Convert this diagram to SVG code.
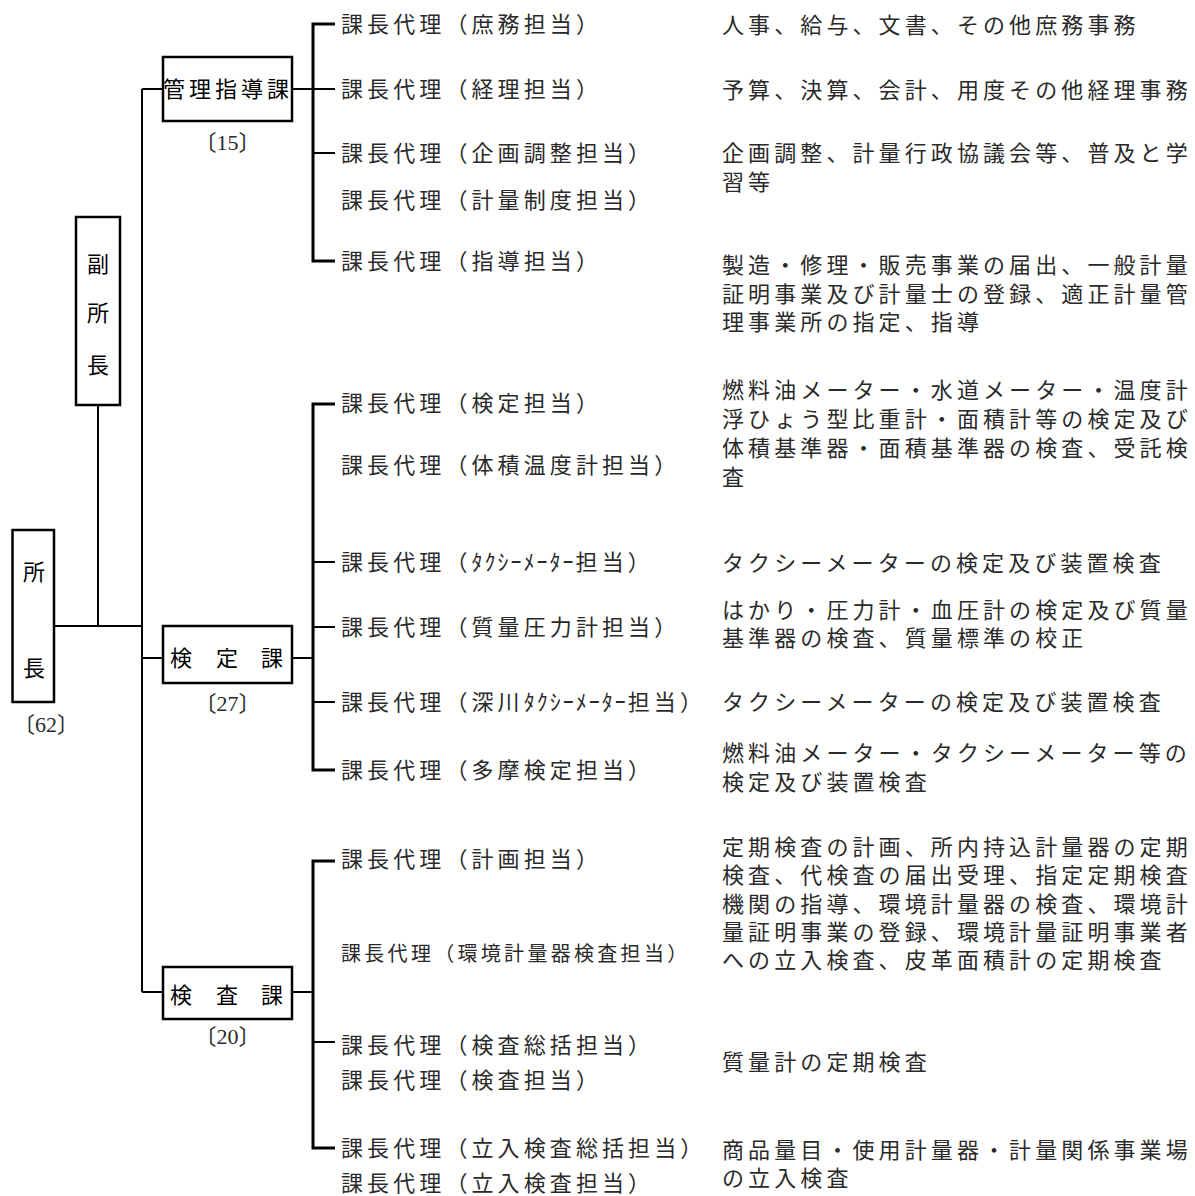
<svg xmlns="http://www.w3.org/2000/svg" width="1195" height="1196" viewBox="0 0 1195 1196">
<style>
.bg{fill:#fff}
.box{fill:#fff;stroke:#000;stroke-width:2.5}
.ln{fill:none;stroke:#000;stroke-width:2}
.tr{fill:none;stroke:#000;stroke-width:3}
.lbl{font-family:"Noto Sans CJK JP","Noto Sans CJK SC",sans-serif;font-size:22px;fill:#000}
.t{font-family:"Noto Sans CJK JP","Noto Sans CJK SC",sans-serif;font-size:22px;fill:#2a2a2a;letter-spacing:4.1px}
.ts{font-family:"Noto Sans CJK JP","Noto Sans CJK SC",sans-serif;font-size:20px;fill:#2a2a2a;letter-spacing:3.3px}
.hw{letter-spacing:2px}
.num{font-family:"Liberation Serif","Noto Sans CJK JP",serif;font-size:22px;fill:#2a2a2a;text-anchor:middle}
</style>
<rect class="bg" x="0" y="0" width="1195" height="1196"/>
<g id="connectors">
<polyline class="ln" points="54,626 142,626"/>
<polyline class="ln" points="98,405 98,626"/>
<polyline class="ln" points="142,89 142,992"/>
<polyline class="ln" points="142,89 163,89"/>
<polyline class="ln" points="142,658 163,658"/>
<polyline class="ln" points="142,992 163,992"/>
<polyline class="ln" points="292,89 313,89"/>
<polyline class="ln" points="292,658 313,658"/>
<polyline class="ln" points="292,992 313,992"/>
<polyline class="tr" points="335,24 313,24 313,261 335,261"/>
<polyline class="ln" points="313,89 335,89"/>
<polyline class="ln" points="313,153 335,153"/>
<polyline class="tr" points="335,404 313,404 313,770 335,770"/>
<polyline class="ln" points="313,562 335,562"/>
<polyline class="ln" points="313,627 335,627"/>
<polyline class="ln" points="313,702 335,702"/>
<polyline class="tr" points="335,861 313,861 313,1148 335,1148"/>
<polyline class="ln" points="313,1042 335,1042"/>
</g>
<g id="n-shocho">
<rect class="box" x="12.5" y="530" width="41.5" height="172"/>
<text class="lbl" x="23" y="580">所</text>
<text class="lbl" x="23" y="676">長</text>
<text class="num" x="46" y="732">〔62〕</text>
</g>
<g id="n-fukushocho">
<rect class="box" x="76" y="217" width="44" height="188"/>
<text class="lbl" x="87" y="272">副</text>
<text class="lbl" x="87" y="321">所</text>
<text class="lbl" x="87" y="373">長</text>
</g>
<g id="n-kanri">
<rect class="box" x="163" y="57" width="129" height="64"/>
<text class="lbl" x="163" y="97" style="letter-spacing:4px">管理指導課</text>
<text class="num" x="227.5" y="150">〔15〕</text>
</g>
<g id="n-kentei">
<rect class="box" x="163" y="626" width="129" height="57"/>
<text class="lbl" x="170 216 261" y="666">検定課</text>
<text class="num" x="227.5" y="711">〔27〕</text>
</g>
<g id="n-kensa">
<rect class="box" x="163" y="967" width="129" height="52"/>
<text class="lbl" x="170 216 261" y="1003">検査課</text>
<text class="num" x="227.5" y="1044">〔20〕</text>
</g>
<g id="n-kanri-items">
<text class="t" x="341" y="32">課長代理（庶務担当）</text>
<text class="t" x="722" y="33">人事、給与、文書、その他庶務事務</text>
<text class="t" x="341" y="97">課長代理（経理担当）</text>
<text class="t" x="722" y="98">予算、決算、会計、用度その他経理事務</text>
<text class="t" x="341" y="161">課長代理（企画調整担当）</text>
<text class="t" x="341" y="208">課長代理（計量制度担当）</text>
<text class="t" x="722" y="161">企画調整、計量行政協議会等、普及と学<tspan x="722" dy="29">習等</tspan></text>
<text class="t" x="341" y="269">課長代理（指導担当）</text>
<text class="t" x="722" y="273">製造・修理・販売事業の届出、一般計量<tspan x="722" dy="28.5">証明事業及び計量士の登録、適正計量管</tspan><tspan x="722" dy="28.5">理事業所の指定、指導</tspan></text>
</g>
<g id="n-kentei-items">
<text class="t" x="341" y="411">課長代理（検定担当）</text>
<text class="t" x="341" y="473">課長代理（体積温度計担当）</text>
<text class="t" x="722" y="398">燃料油メーター・水道メーター・温度計<tspan x="722" dy="29">浮ひょう型比重計・面積計等の検定及び</tspan><tspan x="722" dy="29">体積基準器・面積基準器の検査、受託検</tspan><tspan x="722" dy="29">査</tspan></text>
<text class="t" x="341" y="570">課長代理（<tspan class="hw">ﾀｸｼｰﾒｰﾀｰ</tspan>担当）</text>
<text class="t" x="722" y="571">タクシーメーターの検定及び装置検査</text>
<text class="t" x="341" y="635">課長代理（質量圧力計担当）</text>
<text class="t" x="722" y="618">はかり・圧力計・血圧計の検定及び質量<tspan x="722" dy="28">基準器の検査、質量標準の校正</tspan></text>
<text class="t" x="341" y="710">課長代理（深川<tspan class="hw">ﾀｸｼｰﾒｰﾀｰ</tspan>担当）</text>
<text class="t" x="722" y="710">タクシーメーターの検定及び装置検査</text>
<text class="t" x="341" y="778">課長代理（多摩検定担当）</text>
<text class="t" x="722" y="761">燃料油メーター・タクシーメーター等の<tspan x="722" dy="29">検定及び装置検査</tspan></text>
</g>
<g id="n-kensa-items">
<text class="t" x="341" y="867">課長代理（計画担当）</text>
<text class="ts" x="341" y="961">課長代理（環境計量器検査担当）</text>
<text class="t" x="722" y="855">定期検査の計画、所内持込計量器の定期<tspan x="722" dy="28.3">検査、代検査の届出受理、指定定期検査</tspan><tspan x="722" dy="28.3">機関の指導、環境計量器の検査、環境計</tspan><tspan x="722" dy="28.3">量証明事業の登録、環境計量証明事業者</tspan><tspan x="722" dy="28.3">への立入検査、皮革面積計の定期検査</tspan></text>
<text class="t" x="341" y="1053">課長代理（検査総括担当）</text>
<text class="t" x="341" y="1088">課長代理（検査担当）</text>
<text class="t" x="722" y="1070">質量計の定期検査</text>
<text class="t" x="341" y="1156">課長代理（立入検査総括担当）</text>
<text class="t" x="341" y="1191">課長代理（立入検査担当）</text>
<text class="t" x="722" y="1158">商品量目・使用計量器・計量関係事業場<tspan x="722" dy="28">の立入検査</tspan></text>
</g>
</svg>
